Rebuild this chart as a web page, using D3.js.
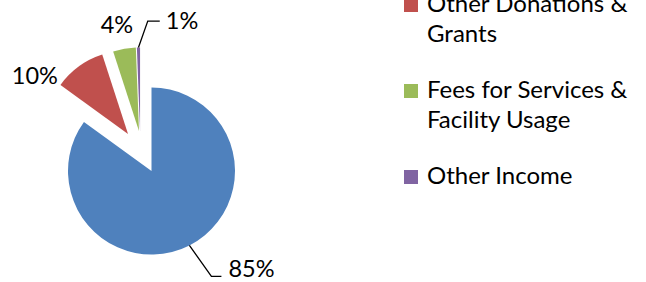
<!DOCTYPE html>
<html>
<head>
<meta charset="utf-8">
<script src="https://cdn.jsdelivr.net/npm/d3@7"></script>
<style>
  body { margin: 0; background: #fff; }
  svg { display: block; }
</style>
</head>
<body>
<div id="chart"></div>
<script>
(function () {
  // data
  const categories = ["Government Grants", "Other Donations & Grants", "Fees for Services & Facility Usage", "Other Income"];
  const shares = [85, 10, 4.4, 0.6];
  const colors = ["#4F81BD", "#C0504D", "#9BBB59", "#8064A2"];

  const width = 646;
  const height = 282;
  const font = "Lato, 'Open Sans', sans-serif";

  const cx = 151.5, cy = 171, radius = 83.5;

  // exploded slices: distance + direction (deg, clockwise from 12 o'clock)
  const explode = [
    { dist: 0, angle: 0 },
    { dist: 43.8, angle: -32.4 },
    { dist: 41.9, angle: -17.4 },
    { dist: 41.6, angle: -16 }
  ];

  // label placement relative to the slice's outer mid point
  const labelPos = [
    { dx: 39, dy: 31.8, anchor: "start", leader: [[22, 31], [32, 31]] },
    { dx: -21, dy: 17.8, anchor: "end" },
    { dx: -7.4, dy: -15.6, anchor: "middle" },
    { dx: 27.3, dy: -19, anchor: "start", leader: [[9.3, -26.5], [21.3, -26.5]] }
  ];

  const svg = d3.select("#chart")
    .append("svg")
    .attr("width", width)
    .attr("height", height);

  const pie = d3.pie().sort(null).value(d => d);
  const arcs = pie(shares);
  const arc = d3.arc().innerRadius(0).outerRadius(radius);
  const pct = d3.format(".0%");
  const total = d3.sum(shares);
  const rad = a => a * Math.PI / 180;

  const g = svg.append("g").attr("transform", `translate(${cx},${cy})`);

  const slice = g.selectAll("g.slice")
    .data(arcs)
    .enter()
    .append("g")
    .attr("class", "slice")
    .attr("transform", (d, i) => {
      const e = explode[i];
      return `translate(${e.dist * Math.sin(rad(e.angle))},${-e.dist * Math.cos(rad(e.angle))})`;
    });

  slice.append("path")
    .attr("d", arc)
    .attr("fill", (d, i) => colors[i]);

  // leader lines + labels
  slice.each(function (d, i) {
    const s = d3.select(this);
    const mid = (d.startAngle + d.endAngle) / 2;
    const px = radius * Math.sin(mid);
    const py = -radius * Math.cos(mid);
    const lp = labelPos[i];
    if (lp.leader) {
      const pts = [[px, py]].concat(lp.leader.map(p => [px + p[0], py + p[1]]));
      s.append("path")
        .attr("d", d3.line()(pts))
        .attr("fill", "none")
        .attr("stroke", "#000")
        .attr("stroke-width", 1.3);
    }
    s.append("text")
      .attr("x", px + lp.dx)
      .attr("y", py + lp.dy)
      .attr("text-anchor", lp.anchor)
      .style("font-family", font)
      .style("font-size", "23.5px")
      .style("fill", "#000")
      .text(pct(d.data / total));
  });

  // legend
  const legendX = 404, lineH = 30, itemGap = 26;
  let y = 12 - (itemGap + lineH);
  const legend = svg.append("g");
  categories.forEach((name, i) => {
    const item = legend.append("g");
    item.append("rect")
      .attr("x", legendX)
      .attr("y", y - 14)
      .attr("width", 14)
      .attr("height", 14)
      .attr("fill", colors[i]);
    const t = item.append("text")
      .attr("x", legendX + 23)
      .attr("y", y)
      .style("font-family", font)
      .style("font-size", "24px")
      .style("fill", "#000");
    const lines = wrapText(t, name, 212);
    y += lines * lineH + itemGap;
  });

  // simple word wrap, returns number of lines
  function wrapText(textEl, str, maxW) {
    const words = str.split(/\s+/).reverse();
    const x = textEl.attr("x");
    let line = [];
    let n = 0;
    let tspan = textEl.append("tspan").attr("x", x).attr("dy", 0);
    let word;
    while ((word = words.pop())) {
      line.push(word);
      tspan.text(line.join(" "));
      if (tspan.node().getComputedTextLength() > maxW && line.length > 1) {
        line.pop();
        tspan.text(line.join(" "));
        line = [word];
        n++;
        tspan = textEl.append("tspan").attr("x", x).attr("dy", lineH).text(word);
      }
    }
    return n + 1;
  }
})();
</script>
</body>
</html>
